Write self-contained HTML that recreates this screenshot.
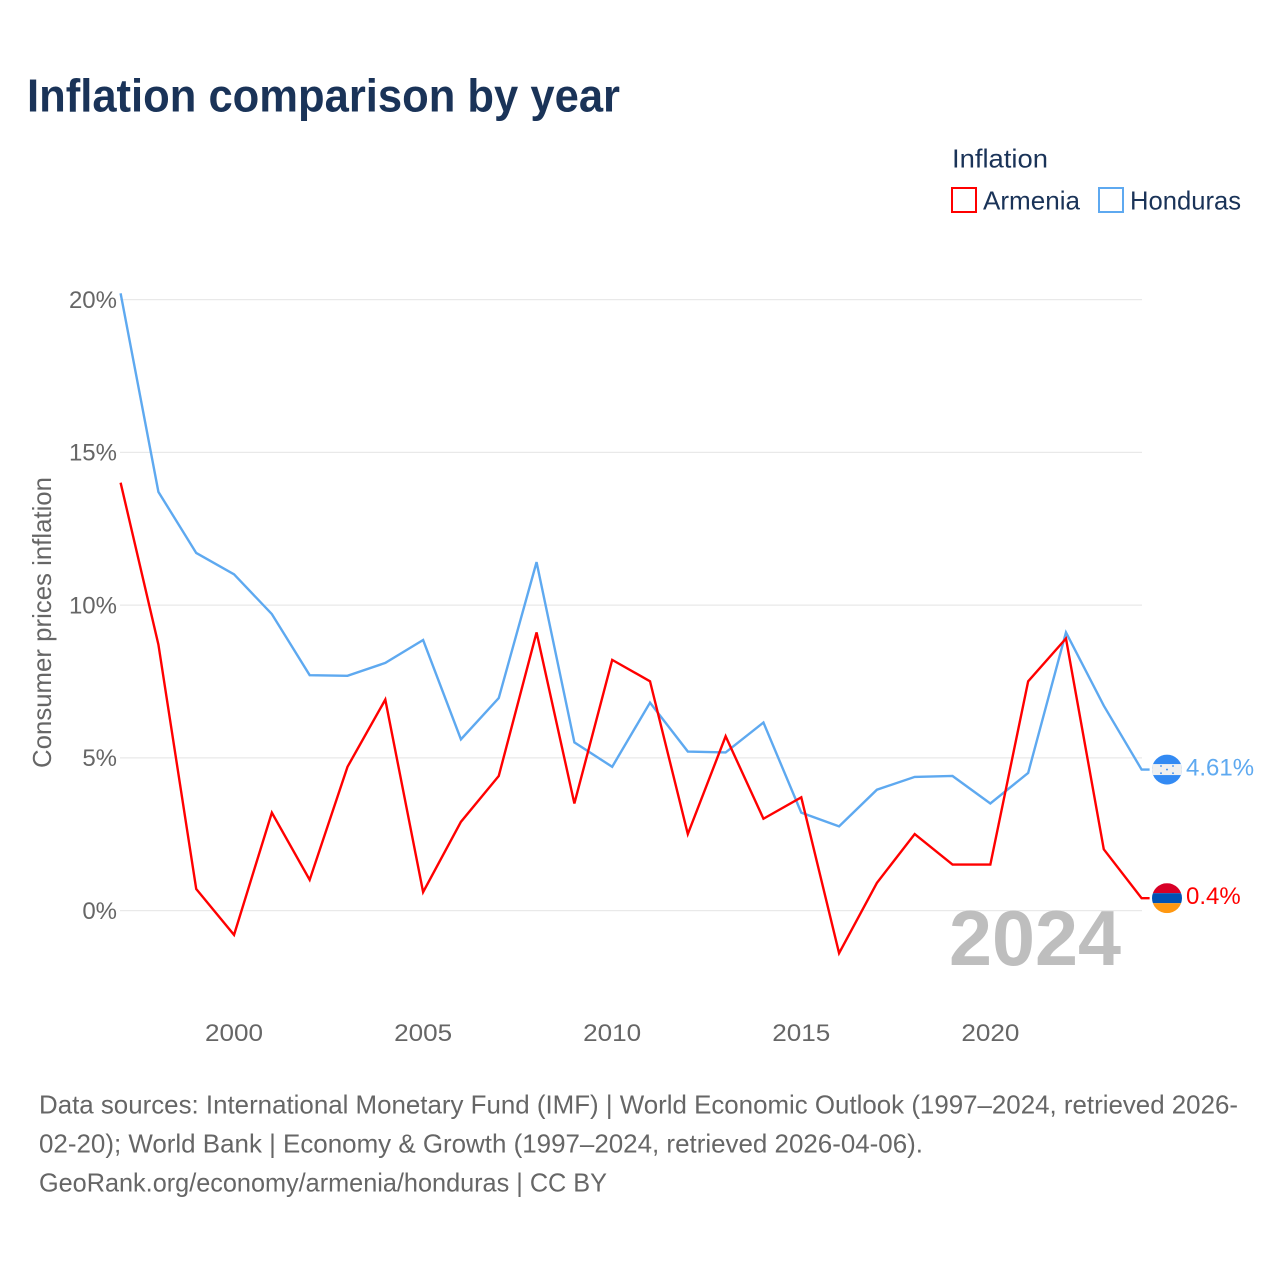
<!DOCTYPE html>
<html lang="en">
<head>
<meta charset="utf-8">
<title>Inflation comparison by year</title>
<style>
html,body{margin:0;padding:0;background:#fff;width:1280px;height:1280px;overflow:hidden}
svg{display:block}
text{font-family:"Liberation Sans",sans-serif}
</style>
</head>
<body>
<svg id="chart" width="1280" height="1280" viewBox="0 0 1280 1280" xmlns="http://www.w3.org/2000/svg">
  <defs>
    <clipPath id="clip-flag-honduras"><circle id="clip-hn" r="15"></circle></clipPath>
    <clipPath id="clip-flag-armenia"><circle id="clip-am" r="15"></circle></clipPath>
  </defs>
  <text x="27" y="111.5" font-size="46" font-weight="700" fill="#1a3358" textLength="593" lengthAdjust="spacingAndGlyphs">Inflation comparison by year</text>
  <g>
    <text x="952" y="167.5" font-size="26" fill="#1a3358" textLength="96" lengthAdjust="spacingAndGlyphs">Inflation</text>
    <rect x="952" y="188" width="24" height="24" fill="#fff" stroke="#ff0000" stroke-width="2"></rect>
    <text x="983" y="209.5" font-size="26" fill="#1a3358" textLength="97" lengthAdjust="spacingAndGlyphs">Armenia</text>
    <rect x="1099" y="188" width="24" height="24" fill="#fff" stroke="#5ea9f0" stroke-width="2"></rect>
    <text x="1130" y="209.5" font-size="26" fill="#1a3358" textLength="111" lengthAdjust="spacingAndGlyphs">Honduras</text>
  </g>
  <g id="grid"></g>
  <g id="y-axis"></g>
  <g id="x-axis"></g>
  <text transform="translate(51,768) rotate(-90)" font-size="26" fill="#666666" textLength="291" lengthAdjust="spacingAndGlyphs">Consumer prices inflation</text>
  <text id="year-watermark" x="949" y="965" font-size="78" font-weight="700" fill="#bebebe" textLength="172" lengthAdjust="spacingAndGlyphs">2024</text>
  <g id="series"></g>
  <g id="end-markers"></g>
  <g font-size="26" fill="#666666">
    <text x="39" y="1113.5" textLength="1199" lengthAdjust="spacingAndGlyphs">Data sources: International Monetary Fund (IMF) | World Economic Outlook (1997–2024, retrieved 2026-</text>
    <text x="39" y="1152.5" textLength="884" lengthAdjust="spacingAndGlyphs">02-20); World Bank | Economy &amp; Growth (1997–2024, retrieved 2026-04-06).</text>
    <text x="39" y="1191.5" textLength="568" lengthAdjust="spacingAndGlyphs">GeoRank.org/economy/armenia/honduras | CC BY</text>
  </g>
</svg>
<script>
const years = [1997,1998,1999,2000,2001,2002,2003,2004,2005,2006,2007,2008,2009,2010,2011,2012,2013,2014,2015,2016,2017,2018,2019,2020,2021,2022,2023,2024];
const armeniaValues = [14.0,8.7,0.7,-0.8,3.2,1.0,4.7,6.9,0.6,2.9,4.4,9.1,3.5,8.2,7.5,2.5,5.7,3.0,3.7,-1.4,0.9,2.5,1.5,1.5,7.5,8.9,2.0,0.4];
const hondurasValues = [20.2,13.7,11.7,11.0,9.7,7.7,7.68,8.1,8.85,5.6,6.95,11.4,5.5,4.7,6.8,5.2,5.17,6.15,3.2,2.75,3.95,4.37,4.4,3.5,4.5,9.1,6.7,4.61];
const yTicks = [0,5,10,15,20];
const yTickLabels = ['0%','5%','10%','15%','20%'];
const xTicks = [2000,2005,2010,2015,2020];
const xTickLabels = ['2000','2005','2010','2015','2020'];
const armeniaEndLabel = '0.4%';
const hondurasEndLabel = '4.61%';

const NS = 'http://www.w3.org/2000/svg';
function xScale(year){ return 120.6 + (year - 1997) * (1141.6 - 120.6) / 27; }
function yScale(v){ return 910.4 - v * 30.55; }
function make(tag, attrs, parent){
  const el = document.createElementNS(NS, tag);
  for (const k in attrs) el.setAttribute(k, attrs[k]);
  parent.appendChild(el);
  return el;
}

const grid = document.getElementById('grid');
const yAxis = document.getElementById('y-axis');
yTicks.forEach(function(t, i){
  const line = make('line', {x1:120, x2:1142, y1:yScale(t) + 0.2, y2:yScale(t) + 0.2, stroke:'#e9e9e9', 'stroke-width':1.3}, grid);
  
  
  const label = make('text', {x:117, y:yScale(t) + 8.5, 'text-anchor':'end', 'font-size':24, fill:'#666666'}, yAxis);
  
  
  label.textContent = yTickLabels[i];
});

const xAxis = document.getElementById('x-axis');
xTicks.forEach(function(t, i){
  const label = make('text', {x:xScale(t), y:1041, 'text-anchor':'middle', 'font-size':24, fill:'#666666', textLength:58, lengthAdjust:'spacingAndGlyphs'}, xAxis);
  
  
  label.textContent = xTickLabels[i];
});

const seriesGroup = document.getElementById('series');
function drawLine(values, color, name){
  let pts = years.map(function(y, i){ return xScale(y).toFixed(2) + ',' + yScale(values[i]).toFixed(2); });
  const last = values[values.length - 1];
  pts.push((xScale(years[years.length - 1]) + 8).toFixed(2) + ',' + yScale(last).toFixed(2));
  const line = make('polyline', {points:pts.join(' '), fill:'none', stroke:color, 'stroke-width':2.4, 'stroke-linejoin':'miter'}, seriesGroup);
  
  
}
drawLine(hondurasValues, '#5ea9f0', 'line-honduras');
drawLine(armeniaValues, '#ff0000', 'line-armenia');

const markers = document.getElementById('end-markers');
const flagX = 1167;

function drawEndLabel(text, y, color, name){
  const label = make('text', {x:1186, y:y + 6, 'font-size':24, fill:color}, markers);
  
  
  label.textContent = text;
}

const hnY = yScale(hondurasValues[hondurasValues.length - 1]);
document.getElementById('clip-hn').setAttribute('cx', flagX);
document.getElementById('clip-hn').setAttribute('cy', hnY);
const hnFlag = make('g', {'clip-path':'url(#clip-flag-honduras)'}, markers);


make('rect', {x:flagX - 15, y:hnY - 15, width:30, height:30, fill:'#338af3'}, hnFlag);
make('rect', {x:flagX - 15, y:hnY - 5.5, width:30, height:11, fill:'#f0f0f0'}, hnFlag);
[[-6,-3.6],[6,-3.6],[0,0],[-6,3.6],[6,3.6]].forEach(function(o){
  make('circle', {cx:flagX + o[0], cy:hnY + o[1], r:0.9, fill:'#338af3'}, hnFlag);
});
drawEndLabel(hondurasEndLabel, hnY, '#5ea9f0', 'end-label-honduras');

const amY = yScale(armeniaValues[armeniaValues.length - 1]);
document.getElementById('clip-am').setAttribute('cx', flagX);
document.getElementById('clip-am').setAttribute('cy', amY);
const amFlag = make('g', {'clip-path':'url(#clip-flag-armenia)'}, markers);


make('rect', {x:flagX - 15, y:amY - 15, width:30, height:10, fill:'#d80027'}, amFlag);
make('rect', {x:flagX - 15, y:amY - 5, width:30, height:10, fill:'#0052b4'}, amFlag);
make('rect', {x:flagX - 15, y:amY + 5, width:30, height:10, fill:'#ff9811'}, amFlag);
drawEndLabel(armeniaEndLabel, amY, '#ff0000', 'end-label-armenia');
</script>
</body>
</html>
